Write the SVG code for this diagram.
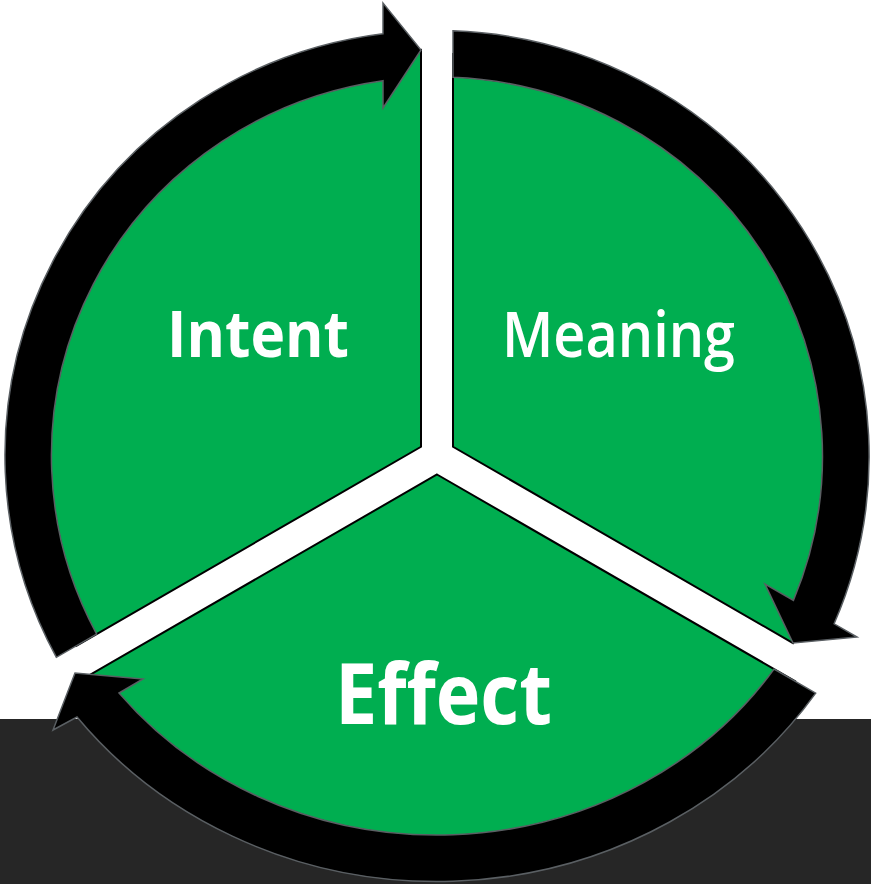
<svg xmlns="http://www.w3.org/2000/svg" width="871" height="884" viewBox="0 0 871 884">
<style>
.band{fill:#262626}
.sector{fill:#00AE50;stroke:#000;stroke-width:2;stroke-linejoin:miter}
.ring{fill:#000;stroke:#5a5f63;stroke-width:1.5;stroke-linejoin:miter}
.lbl{fill:#fff;font-family:"Open Sans","Noto Sans","Liberation Sans",sans-serif}
.b{font-weight:700}
.m{font-weight:600}
</style>
<rect width="871" height="884" fill="#fff"/>
<rect class="band" x="0" y="719" width="871" height="165"/>
<g id="intent">
<path class="sector" d="M 421 446.76 L 421 50 L 377 58.1 A 408.75 402.25 0 0 0 76.3 645.8 Z"/>
</g>
<g id="meaning">
<path class="sector" d="M 453 446.76 L 453 54.06 A 408.75 402.25 0 0 1 817 604.2 L 793 643.06 Z"/>
</g>
<g id="effect">
<path class="sector" d="M 437 474.5 L 794.9 681.1 A 431.75 402.25 0 0 1 107 715.4 L 90.7 674.4 Z"/>
</g>
<g id="connectors">
<path class="ring" d="M 56.4 657.3 A 432 425.5 0 0 1 383 33.8 L 383 3 L 421 50 L 383 108 L 383 80.7 A 385.5 379 0 0 0 96.64 634.04 Z"/>
<path class="ring" d="M 453 30.8 A 432 425.5 0 0 1 834.1 623.8 L 857 637 L 793 643 L 765 584 L 793.4 600.4 A 385.5 379 0 0 0 453 77.3 Z"/>
<path class="ring" d="M 815.7 693.15 A 456 425.5 0 0 1 77 717 L 53 730 L 75 673 L 143 679 L 119 693 A 407.5 379 0 0 0 774.05 669.1 Z"/>
</g>
<g id="labels">
<text class="lbl b" x="167" y="357" font-size="64" textLength="182" lengthAdjust="spacingAndGlyphs">Intent</text>
<text class="lbl m" x="502" y="357" font-size="63" textLength="233" lengthAdjust="spacingAndGlyphs">Meaning</text>
<text class="lbl b" x="335" y="724" font-size="84" textLength="217" lengthAdjust="spacingAndGlyphs">Effect</text>
</g>
</svg>
